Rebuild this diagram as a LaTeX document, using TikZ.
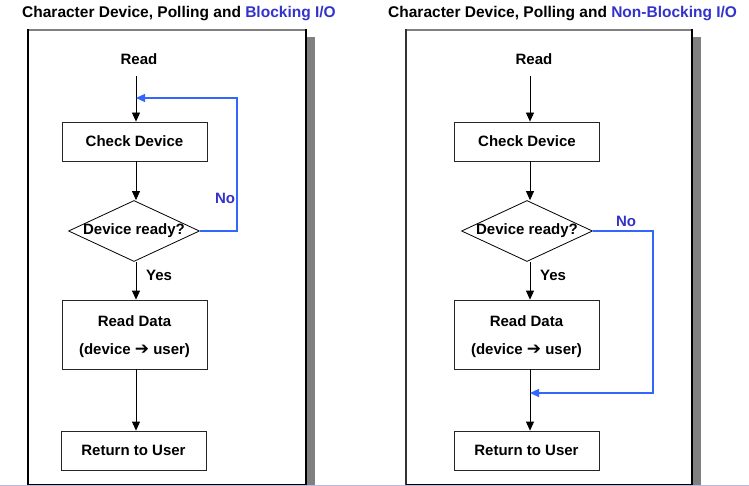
\documentclass[tikz,border=0pt]{standalone}
\usepackage{fontspec}
\setmainfont{Liberation Sans}
\newfontfamily\symfont{DejaVu Sans}
\usetikzlibrary{arrows.meta,shapes.geometric}
\definecolor{lineblue}{RGB}{51,102,255}
\definecolor{textblue}{RGB}{51,51,204}
\definecolor{shadowgray}{RGB}{128,128,128}
\definecolor{footerline}{RGB}{185,185,230}
\tikzset{
  flowtext/.style={font=\bfseries\fontsize{15}{18}\selectfont, text=black},
  proc/.style={draw=black!85, line width=0.8pt, fill=white, minimum width=145pt,
    minimum height=39pt, inner sep=0pt, flowtext, align=center},
  decision/.style={draw=black, line width=0.8pt, diamond, minimum width=131pt,
    minimum height=61pt, inner sep=0pt},
  lbl/.style={flowtext, inner sep=2pt},
  nolbl/.style={font=\bfseries\fontsize{15}{18}\selectfont, text=textblue, inner sep=0pt},
  title/.style={font=\bfseries\fontsize{15.5}{18}\selectfont, anchor=west, inner sep=0pt},
  flow/.style={line width=0.8pt, -{Triangle[length=9pt,width=8pt]}},
  loop/.style={draw=lineblue, line width=1.2pt, -{Triangle[length=9pt,width=8pt]}},
}
\newcommand{\heavyarrow}{{\symfont\bfseries\fontsize{17}{18}\selectfont ➔}}
\begin{document}
\begin{tikzpicture}[x=1pt,y=-1pt]
\useasboundingbox (0,0) rectangle (749,486);
\fill[white] (0,0) rectangle (749,486);
\draw[footerline, line width=1pt] (0,485.5) -- (749,485.5);

% titles
\node[title] (t1) at (22,14) {Character Device, Polling and \textcolor{textblue}{Blocking I/O}};
\node[title] (t2) at (388,14) {Character Device, Polling and \textcolor{textblue}{Non-Blocking I/O}};

% panels with drop shadow
\fill[shadowgray] (306,37) rectangle (315,485);
\draw[shadowgray, line width=2pt] (28,30) -- (306,30);
\draw[black, line width=2pt] (28,29) -- (28,485);
\draw[black, line width=1.5pt] (306,29) -- (306,485);
\draw[black, line width=0.8pt] (28,484.5) -- (306,484.5);

\fill[shadowgray] (692,37) rectangle (701,485);
\draw[shadowgray, line width=2pt] (406,30) -- (692,30);
\draw[black!80, line width=2pt] (406,29) -- (406,485);
\draw[black, line width=1.5pt] (692,29) -- (692,485);
\draw[black, line width=0.8pt] (406,484.5) -- (692,484.5);

% blocking flow
\node[lbl] (r1) at (139,59) {Read};
\node[proc] (c1) at (134.5,141.5) {Check Device};
\node[decision] (d1) at (134,231) {};
\node[flowtext] (d1t) at (d1) {Device ready?};
\node[proc, minimum height=69pt] (rd1) at (134.5,334.5) {};
\node[flowtext, align=center] (rd1t) at ([yshift=-2.5pt]rd1.center) {Read Data\\[10pt](device \heavyarrow{} user)};
\node[proc] (u1) at (133.5,450.5) {Return to User};
\node[lbl, anchor=west] (y1) at (144,275) {Yes};
\node[nolbl] (n1) at (225,198) {No};
\coordinate (s1) at (136,76);
\coordinate (j1) at (136,98);
\coordinate (k1) at (237,98);

\draw[flow] (s1) -- (c1.north -| s1);
\draw[flow] (c1.south -| s1) -- (d1.north -| s1);
\draw[flow] (d1.south -| s1) -- (rd1.north -| s1);
\draw[flow] (rd1.south -| s1) -- (u1.north -| s1);
\draw[loop] (d1.east) -| (k1) -- (j1);

% non-blocking flow
\node[lbl] (r2) at (534,59) {Read};
\node[proc] (c2) at (527,141.5) {Check Device};
\node[decision] (d2) at (527,231) {};
\node[flowtext] (d2t) at (d2) {Device ready?};
\node[proc, minimum height=69pt] (rd2) at (526.5,334.5) {};
\node[flowtext, align=center] (rd2t) at ([yshift=-2.5pt]rd2.center) {Read Data\\[10pt](device \heavyarrow{} user)};
\node[proc] (u2) at (526.5,450.5) {Return to User};
\node[lbl, anchor=west] (y2) at (538,275) {Yes};
\node[nolbl] (n2) at (626,221) {No};
\coordinate (s2) at (530,76);
\coordinate (j2) at (530,393);
\coordinate (k2) at (653,393);

\draw[flow] (s2) -- (c2.north -| s2);
\draw[flow] (c2.south -| s2) -- (d2.north -| s2);
\draw[flow] (d2.south -| s2) -- (rd2.north -| s2);
\draw[flow] (rd2.south -| s2) -- (u2.north -| s2);
\draw[loop] (d2.east) -| (k2) -- (j2);
\end{tikzpicture}
\end{document}
